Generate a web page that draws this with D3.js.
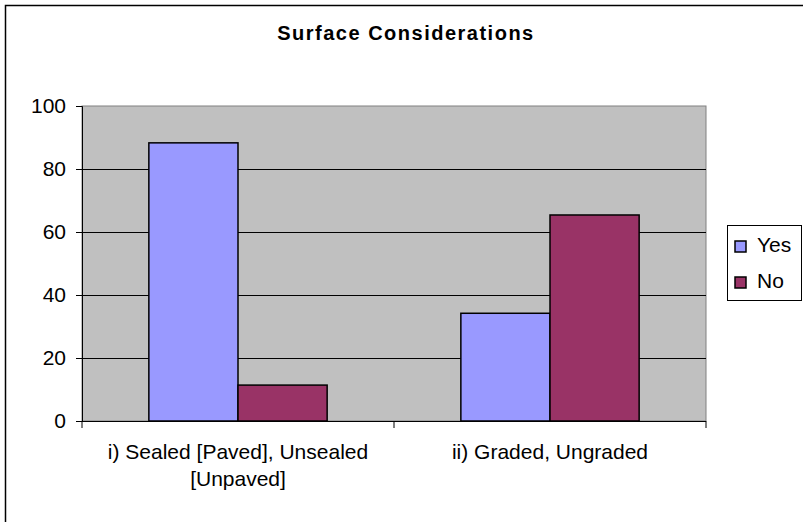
<!DOCTYPE html>
<html>
<head>
<meta charset="utf-8">
<script src="https://cdn.jsdelivr.net/npm/d3@7"></script>
<style>
  html, body { margin: 0; padding: 0; background: #fff; }
  svg { display: block; font-family: "Liberation Sans", Arial, sans-serif; }
</style>
</head>
<body>
<svg id="chart" width="803" height="522"></svg>
<script>
const title = "Surface Considerations";
const categories = [["i) Sealed [Paved], Unsealed", "[Unpaved]"], ["ii) Graded, Ungraded"]];
const categoryKeys = ["i) Sealed [Paved], Unsealed [Unpaved]", "ii) Graded, Ungraded"];
const seriesNames = ["Yes", "No"];
const yesValues = [88.3, 34.2];
const noValues = [11.4, 65.4];
const yTicks = [0, 20, 40, 60, 80, 100];
const colors = ["#9999FF", "#993366"];

const svg = d3.select("#chart");
const plot = { left: 82, right: 706, top: 106, bottom: 421 };

// outer frame
svg.append("rect")
  .attr("x", 5.5).attr("y", 5.5).attr("width", 830).attr("height", 560)
  .attr("fill", "#fff").attr("stroke", "#000").attr("stroke-width", 1.5);

const y = d3.scaleLinear().domain([0, 100]).range([plot.bottom, plot.top]);
const x0 = d3.scaleBand().domain(categoryKeys).range([plot.left, plot.right]).padding(0);
const x1 = d3.scaleBand().domain(seriesNames).range([0, x0.bandwidth()]).paddingInner(0).paddingOuter(0.75);

// plot area
svg.append("rect")
  .attr("x", plot.left).attr("y", plot.top)
  .attr("width", plot.right - plot.left).attr("height", plot.bottom - plot.top)
  .attr("fill", "#C0C0C0").attr("stroke", "#808080").attr("stroke-width", 1);

// gridlines
svg.append("g").selectAll("line")
  .data(yTicks.filter(t => t > 0 && t < 100))
  .join("line")
  .attr("x1", plot.left).attr("x2", plot.right)
  .attr("y1", d => Math.round(y(d)) + 0.5).attr("y2", d => Math.round(y(d)) + 0.5)
  .attr("stroke", "#000").attr("stroke-width", 1);

// bars
const data = categoryKeys.map((c, i) => ({ cat: c, vals: [yesValues[i], noValues[i]] }));
const groups = svg.append("g").selectAll("g")
  .data(data).join("g")
  .attr("transform", d => `translate(${x0(d.cat)},0)`);
groups.selectAll("rect")
  .data(d => d.vals.map((v, j) => ({ name: seriesNames[j], v, j })))
  .join("rect")
  .attr("x", d => x1(d.name))
  .attr("y", d => y(d.v))
  .attr("width", x1.bandwidth())
  .attr("height", d => y(0) - y(d.v))
  .attr("fill", d => colors[d.j])
  .attr("stroke", "#000").attr("stroke-width", 1.5);

// y axis
const yAxis = d3.axisLeft(y).tickValues(yTicks).tickSize(6).tickPadding(10);
const gy = svg.append("g").attr("transform", `translate(${plot.left},0)`).call(yAxis);
gy.select(".domain").attr("stroke", "#000");
gy.selectAll(".tick line").attr("stroke", "#000");
gy.selectAll(".tick text").attr("font-size", 21).attr("fill", "#000")
  .attr("font-family", "Liberation Sans, Arial, sans-serif");

// x axis
const gx = svg.append("g").attr("transform", `translate(0,${plot.bottom})`);
gx.append("line").attr("x1", plot.left).attr("x2", plot.right).attr("y1", 0.5).attr("y2", 0.5).attr("stroke", "#000");
const bounds = [plot.left, ...categoryKeys.map(c => x0(c) + x0.bandwidth())];
gx.selectAll("line.tk").data(bounds).join("line").attr("class", "tk")
  .attr("x1", d => d).attr("x2", d => d).attr("y1", 0).attr("y2", 7).attr("stroke", "#000");
gx.selectAll("text.cat").data(categoryKeys).join("text").attr("class", "cat")
  .attr("x", d => x0(d) + x0.bandwidth() / 2)
  .attr("y", 38)
  .attr("text-anchor", "middle")
  .attr("font-size", 21)
  .attr("fill", "#000")
  .each(function(d, i) {
    const t = d3.select(this);
    categories[i].forEach((line, k) => {
      t.append("tspan").attr("x", x0(d) + x0.bandwidth() / 2).attr("dy", k === 0 ? 0 : 27).text(line);
    });
  });

// title
svg.append("text")
  .attr("x", 406).attr("y", 40)
  .attr("text-anchor", "middle")
  .attr("font-size", 20).attr("font-weight", "bold")
  .attr("letter-spacing", 1.5)
  .text(title);

// legend
const lg = svg.append("g");
lg.append("rect").attr("x", 727.5).attr("y", 225.5).attr("width", 74).attr("height", 75)
  .attr("fill", "#fff").attr("stroke", "#000").attr("stroke-width", 1);
const items = lg.selectAll("g").data(seriesNames).join("g")
  .attr("transform", (d, i) => `translate(735,${241 + i * 36})`);
items.append("rect").attr("width", 11).attr("height", 11)
  .attr("fill", (d, i) => colors[i]).attr("stroke", "#000").attr("stroke-width", 1.5);
items.append("text").attr("x", 22).attr("y", 11).attr("font-size", 21).text(d => d);
</script>
</body>
</html>
